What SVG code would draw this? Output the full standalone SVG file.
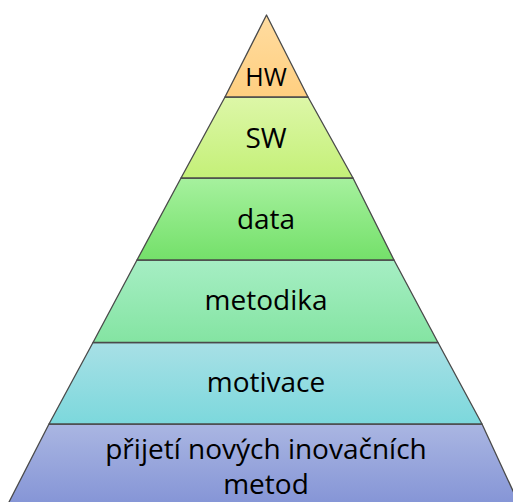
<svg xmlns="http://www.w3.org/2000/svg" width="513" height="502" viewBox="0 0 513 502">
<defs>
<linearGradient id="gHW" x1="0" y1="0" x2="0" y2="1"><stop offset="0" stop-color="#FFDCA0"/><stop offset="1" stop-color="#FFCF80"/></linearGradient>
<linearGradient id="gSW" x1="0" y1="0" x2="0" y2="1"><stop offset="0" stop-color="#DDF7A8"/><stop offset="1" stop-color="#C4F078"/></linearGradient>
<linearGradient id="gData" x1="0" y1="0" x2="0" y2="1"><stop offset="0" stop-color="#A6F19E"/><stop offset="1" stop-color="#74E06A"/></linearGradient>
<linearGradient id="gMet" x1="0" y1="0" x2="0" y2="1"><stop offset="0" stop-color="#A6EEC4"/><stop offset="1" stop-color="#84E4A2"/></linearGradient>
<linearGradient id="gMot" x1="0" y1="0" x2="0" y2="1"><stop offset="0" stop-color="#A8E0E6"/><stop offset="1" stop-color="#7CD8DC"/></linearGradient>
<linearGradient id="gBot" x1="0" y1="0" x2="0" y2="1"><stop offset="0" stop-color="#AAB6E2"/><stop offset="1" stop-color="#8494D6"/></linearGradient>
</defs>
<style>
.layer{stroke:#4a4a4a;stroke-width:1.3;stroke-linejoin:round}
.t{font-family:"Open Sans","Liberation Sans",sans-serif;font-size:28px;fill:#000;text-anchor:middle}
</style>
<g id="layer-bottom">
<polygon class="layer" fill="url(#gBot)" points="49,424 482,424 520,506 7,506"/>
<text class="t" x="266" y="459"><tspan x="266">přijetí nových inovačních</tspan><tspan x="266" dy="35">metod</tspan></text>
</g>
<g id="layer-motivace">
<polygon class="layer" fill="url(#gMot)" points="93,342.5 438,342.5 482,424 49,424"/>
<text class="t" x="266" y="392">motivace</text>
</g>
<g id="layer-metodika">
<polygon class="layer" fill="url(#gMet)" points="137,260 394,260 438,342.5 93,342.5"/>
<text class="t" x="266" y="310">metodika</text>
</g>
<g id="layer-data">
<polygon class="layer" fill="url(#gData)" points="181,178 353,178 394,260 137,260"/>
<text class="t" x="266" y="229">data</text>
</g>
<g id="layer-SW">
<polygon class="layer" fill="url(#gSW)" points="225,97 308,97 353,178 181,178"/>
<text class="t" x="266" y="148">SW</text>
</g>
<g id="layer-HW">
<polygon class="layer" fill="url(#gHW)" points="266.5,15 308,97 225,97"/>
<text class="t" x="266" y="86" style="font-size:25px">HW</text>
</g>
</svg>
